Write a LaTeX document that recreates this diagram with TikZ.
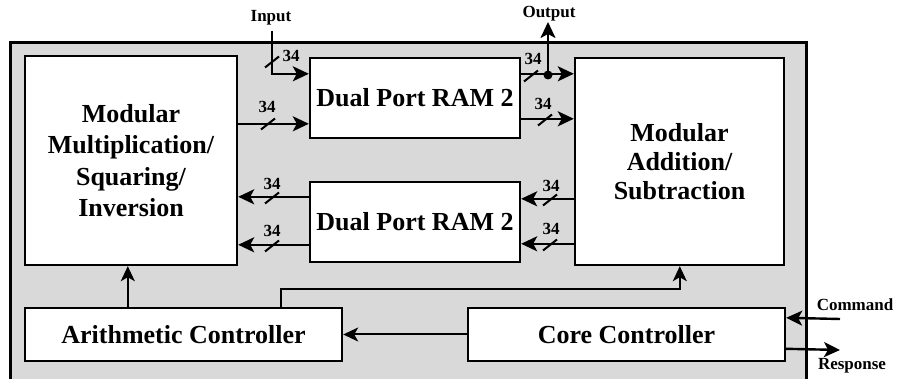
\documentclass[tikz,border=0pt]{standalone}
\usepackage{fontspec}
\setmainfont{Liberation Serif}
\usetikzlibrary{arrows.meta,calc}
\newcommand\bigtxt{\fontsize{26}{31.5}\selectfont\bfseries}
\newcommand\smalltxt{\fontsize{17}{19}\selectfont\bfseries}
\newcommand\busslash[2]{\draw[busmk] (#1,#2) ++(-7,5.5) -- ++(14,-11);}
\begin{document}
\begin{tikzpicture}[x=1pt,y=-1pt,
  box/.style={draw,line width=2.4pt,fill=white,inner sep=0pt,align=center,font=\bigtxt},
  arr/.style={line width=2.4pt,-{Stealth[length=16pt,width=15pt,inset=4pt]}},
  thinarr/.style={line width=2pt,-{Stealth[length=15pt,width=14pt,inset=4pt]}},
  busmk/.style={line width=2pt},
  lbl/.style={font=\smalltxt,inner sep=0pt,anchor=base},
]
\useasboundingbox (0,0) rectangle (900,379);
% outer container
\fill[black!15] (10,43) rectangle (806,379);
\draw[line width=3pt] (10,380) -- (10,43) -- (806,43) -- (806,380);

% blocks
\node[box,minimum width=212pt,minimum height=209pt] (mm) at (131,160.5)
  {Modular\\Multiplication/\\Squaring/\\Inversion};
\node[box,minimum width=209pt,minimum height=207pt,font=\fontsize{26}{29}\selectfont\bfseries] (ma) at (679.5,161.5)
  {Modular\\Addition/\\Subtraction};
\node[box,minimum width=210pt,minimum height=80pt] (ram1) at (415,98) {Dual Port RAM 2};
\node[box,minimum width=210pt,minimum height=80pt] (ram2) at (415,222) {Dual Port RAM 2};
\node[box,minimum width=317pt,minimum height=53pt] (ac) at (183.5,334.5) {Arithmetic Controller};
\node[box,minimum width=317pt,minimum height=53pt] (cc) at (626.5,334.5) {Core Controller};

% external labels
\node[lbl] (tin) at (271,22) {Input};
\node[lbl] (tout) at (549,18) {Output};
\node[lbl] (tcmd) at (855,311) {Command};
\node[lbl] (tresp) at (852,370) {Response};

% input
\coordinate (inp) at (272,31);
\draw[arr] (inp) |- ($(ram1.north west)+(0,17)$);
\draw[arr] ($(mm.north east)+(0,69)$) -- ($(ram1.north west)+(0,67)$);

% ram1 -> ma
\draw[arr] ($(ram1.north east)+(0,17)$) -- ($(ma.north west)+(0,17)$);
\draw[arr] ($(ram1.north east)+(0,62)$) -- ($(ma.north west)+(0,62)$);
\coordinate (od) at (548,75);
\coordinate (outp) at (548,22);
\fill (od) circle (4.5pt);
\draw[arr] (od) -- (outp);

% ram2 -> mm, ma -> ram2
\draw[arr] ($(ram2.north west)+(0,16)$) -- ($(mm.north east)+(0,142)$);
\draw[arr] ($(ram2.north west)+(0,64)$) -- ($(mm.north east)+(0,190)$);
\draw[arr] ($(ma.north west)+(0,142)$) -- ($(ram2.north east)+(0,18)$);
\draw[arr] ($(ma.north west)+(0,187)$) -- ($(ram2.north east)+(0,63)$);

% bus slashes and widths
\busslash{272}{62}
\busslash{268}{124}
\busslash{531}{76}
\busslash{545}{120}
\busslash{272}{198}
\busslash{272}{246}
\busslash{550}{200}
\busslash{550}{245}
\node[lbl] (w1) at (291,62) {34};
\node[lbl] (w2) at (267,113) {34};
\node[lbl] (w3) at (533,65) {34};
\node[lbl] (w4) at (543,110) {34};
\node[lbl] (w5) at (272,190) {34};
\node[lbl] (w6) at (272,237) {34};
\node[lbl] (w7) at (551,192) {34};
\node[lbl] (w8) at (551,235) {34};

% controllers
\draw[thinarr] ($(ac.north west)+(104,0)$) -- ($(mm.south west)+(104,0)$);
\draw[thinarr] ($(ac.north west)+(257,0)$) |- ($(ma.south west)+(106,23)$) -- ($(ma.south west)+(106,0)$);
\draw[thinarr] (cc.west) -- (ac.east);
\coordinate (cmd) at (840,319);
\coordinate (resp) at (840,350);
\draw[arr] (cmd) -- ($(cc.north east)+(0,11)$);
\draw[arr] ($(cc.north east)+(0,42)$) -- (resp);
\end{tikzpicture}
\end{document}
